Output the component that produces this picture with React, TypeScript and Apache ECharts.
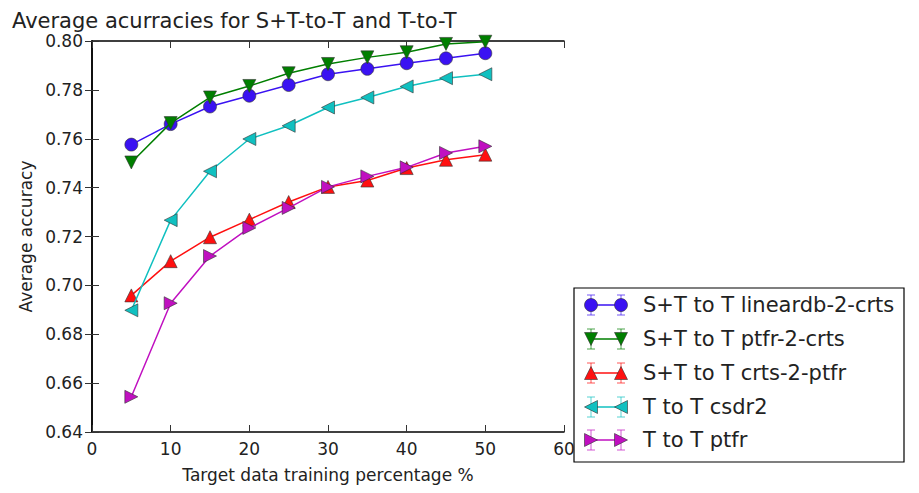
import React, { useEffect, useRef } from "react";
import * as echarts from "echarts";

const xValues = [5, 10, 15, 20, 25, 30, 35, 40, 45, 50];
const seriesNames = [
  "S+T to T lineardb-2-crts",
  "S+T to T ptfr-2-crts",
  "S+T to T crts-2-ptfr",
  "T to T csdr2",
  "T to T ptfr",
];
const blueValues = [0.7576, 0.766, 0.7732, 0.7776, 0.782, 0.7864, 0.7886, 0.7909, 0.7929, 0.795];
const greenValues = [0.7503, 0.7664, 0.7769, 0.7816, 0.7868, 0.7906, 0.7933, 0.7954, 0.7988, 0.7997];
const redValues = [0.6959, 0.7099, 0.7197, 0.7269, 0.7341, 0.7403, 0.7429, 0.748, 0.7514, 0.7535];
const cyanValues = [0.6898, 0.7267, 0.7467, 0.7599, 0.7653, 0.7728, 0.7769, 0.7814, 0.7848, 0.7864];
const magentaValues = [0.6544, 0.6927, 0.712, 0.7235, 0.7317, 0.7403, 0.7446, 0.7483, 0.7542, 0.7569];
const titleText = "Average acurracies for S+T-to-T and T-to-T";
const xAxisTitle = "Target data training percentage %";
const yAxisTitle = "Average accuracy";

const colors = ["#3a12f2", "#007f00", "#ff1010", "#10c0c0", "#c010c0"];
const symbols = ["circle", "triangle", "triangle", "triangle", "triangle"];
const rotations = [0, 180, 0, 90, -90];
const allValues = [blueValues, greenValues, redValues, cyanValues, magentaValues];

const FONT = "DejaVu Sans";

export default function App() {
  const ref = useRef<HTMLDivElement>(null);
  useEffect(() => {
    document.body.style.margin = "0";
    const chart = echarts.init(ref.current!, undefined, { renderer: "svg" });

    const series: any[] = allValues.map((vals, i) => ({
      name: seriesNames[i],
      type: "line",
      data: xValues.map((x, j) => [x, vals[j]]),
      symbol: symbols[i],
      symbolSize: i === 0 ? 13 : 13,
      symbolRotate: rotations[i],
      showAllSymbol: true,
      lineStyle: { color: colors[i], width: 1.5 },
      itemStyle: { color: colors[i], borderColor: "#333", borderWidth: 0.6 },
      emphasis: { disabled: true },
      z: 2 + i,
    }));

    // legend drawn with graphic
    const legendLeft = 574;
    const legendTop = 288;
    const legendW = 330;
    const legendH = 174;
    const rowY = [305, 339, 373, 407, 440];
    const mx1 = 591;
    const mx2 = 621;
    const legendChildren: any[] = [
      {
        type: "rect",
        shape: { x: legendLeft, y: legendTop, width: legendW, height: legendH },
        style: { fill: "#fff", stroke: "#000", lineWidth: 1.2 },
      },
    ];
    const markerShape = (i: number, cx: number, cy: number) => {
      const r = 6.5;
      if (i === 0) {
        return { type: "circle", shape: { cx, cy, r }, style: { fill: colors[i], stroke: "#333", lineWidth: 0.6 } };
      }
      let pts: number[][];
      if (i === 1) pts = [[cx - r, cy - r], [cx + r, cy - r], [cx, cy + r]];
      else if (i === 2) pts = [[cx - r, cy + r], [cx + r, cy + r], [cx, cy - r]];
      else if (i === 3) pts = [[cx + r, cy - r], [cx + r, cy + r], [cx - r, cy]];
      else pts = [[cx - r, cy - r], [cx - r, cy + r], [cx + r, cy]];
      return { type: "polygon", shape: { points: pts }, style: { fill: colors[i], stroke: "#333", lineWidth: 0.6 } };
    };
    seriesNames.forEach((name, i) => {
      const y = rowY[i];
      legendChildren.push({
        type: "line",
        shape: { x1: mx1, y1: y, x2: mx2, y2: y },
        style: { stroke: colors[i], lineWidth: 1.5 },
      });
      [mx1, mx2].forEach((mx) => {
        legendChildren.push({
          type: "line",
          shape: { x1: mx, y1: y - 10, x2: mx, y2: y + 10 },
          style: { stroke: colors[i], lineWidth: 1, opacity: 0.7 },
        });
        legendChildren.push({
          type: "line",
          shape: { x1: mx - 4, y1: y - 10, x2: mx + 4, y2: y - 10 },
          style: { stroke: colors[i], lineWidth: 1, opacity: 0.7 },
        });
        legendChildren.push({
          type: "line",
          shape: { x1: mx - 4, y1: y + 10, x2: mx + 4, y2: y + 10 },
          style: { stroke: colors[i], lineWidth: 1, opacity: 0.7 },
        });
        legendChildren.push(markerShape(i, mx, y));
      });
      legendChildren.push({
        type: "text",
        x: 643,
        y: y,
        style: {
          text: name,
          fill: "#222",
          font: `21px "${FONT}"`,
          textVerticalAlign: "middle",
          textAlign: "left",
        },
      });
    });

    const axisLine = { show: true, lineStyle: { color: "#000", width: 1.5 } };
    const axisTick = { show: true, inside: true, length: 7, lineStyle: { color: "#333", width: 1 } };
    const labelStyle = { color: "#222", fontFamily: FONT, fontSize: 17 };

    chart.setOption({
      animation: false,
      backgroundColor: "#fff",
      title: {
        text: titleText,
        left: 12,
        top: 10,
        padding: 0,
        textStyle: { color: "#222", fontFamily: FONT, fontSize: 21, fontWeight: "normal" },
      },
      grid: { left: 92, right: 355, top: 41, bottom: 61, containLabel: false },
      xAxis: [
        {
          type: "value",
          min: 0,
          max: 60,
          interval: 10,
          position: "bottom",
          name: xAxisTitle,
          nameLocation: "middle",
          nameGap: 34,
          nameTextStyle: { color: "#222", fontFamily: FONT, fontSize: 17 },
          axisLine,
          axisTick,
          splitLine: { show: false },
          axisLabel: { ...labelStyle, margin: 8 },
        },
        {
          type: "value",
          min: 0,
          max: 60,
          interval: 10,
          position: "top",
          axisLine,
          axisTick,
          splitLine: { show: false },
          axisLabel: { show: false },
        },
      ],
      yAxis: [
        {
          type: "value",
          min: 0.64,
          max: 0.8,
          interval: 0.02,
          position: "left",
          name: yAxisTitle,
          nameLocation: "middle",
          nameGap: 58,
          nameTextStyle: { color: "#222", fontFamily: FONT, fontSize: 17 },
          axisLine,
          axisTick,
          splitLine: { show: false },
          axisLabel: { ...labelStyle, margin: 9, formatter: (v: number) => v.toFixed(2) },
        },
        {
          type: "value",
          min: 0.64,
          max: 0.8,
          interval: 0.02,
          position: "right",
          axisLine,
          axisTick,
          splitLine: { show: false },
          axisLabel: { show: false },
        },
      ],
      series,
      graphic: [{ type: "group", children: legendChildren, z: 100 }],
    });
    return () => chart.dispose();
  }, []);
  return <div ref={ref} style={{ width: 919, height: 493 }} />;
}
